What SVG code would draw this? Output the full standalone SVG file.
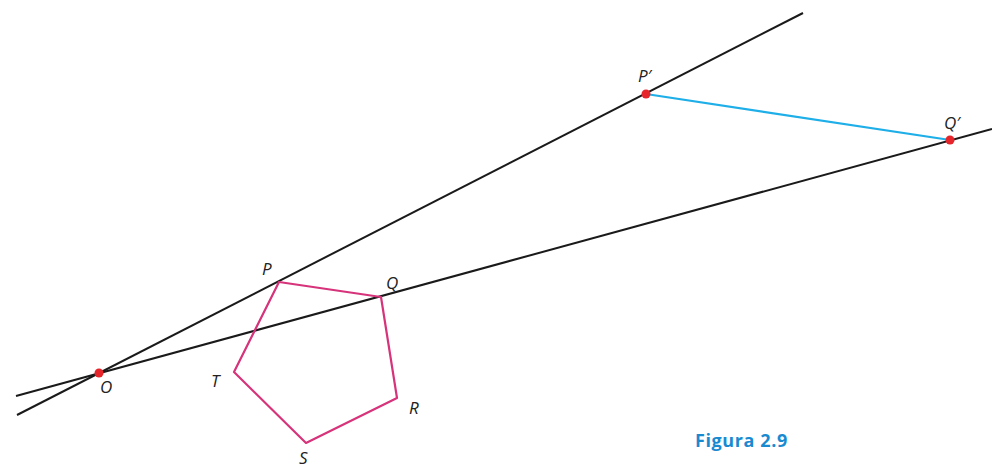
<svg xmlns="http://www.w3.org/2000/svg" width="992" height="468" viewBox="0 0 992 468">
<style>
.ln{stroke:#1a1a1a;stroke-width:2;fill:none}
.pt{fill:#e5252a}
.lb{font-family:"Open Sans","Liberation Sans",sans-serif;font-style:italic;font-size:17px;fill:#222}
</style>
<rect width="992" height="468" fill="#fff"/>
<g id="connectors">
<line class="ln" x1="17" y1="415" x2="803" y2="13"/>
<line class="ln" x1="16" y1="396" x2="992" y2="129"/>
<line x1="646" y1="94" x2="950" y2="140" stroke="#1eaee8" stroke-width="2.2"/>
</g>
<g id="pentagon">
<polygon points="279,282 381,297 397,398 306,443 234,372" fill="none" stroke="#d6337a" stroke-width="2.2" stroke-linejoin="round"/>
</g>
<g id="O"><circle class="pt" cx="99" cy="373" r="4.5"/><text class="lb" x="100" y="393">O</text></g>
<g id="P"><text class="lb" x="262" y="275">P</text></g>
<g id="Q"><text class="lb" x="386" y="289">Q</text></g>
<g id="R"><text class="lb" x="409" y="414">R</text></g>
<g id="S"><text class="lb" x="299" y="464">S</text></g>
<g id="T"><text class="lb" x="211" y="387">T</text></g>
<g id="Pp"><circle class="pt" cx="646" cy="94" r="4.5"/><text class="lb" x="638" y="82">P′</text></g>
<g id="Qp"><circle class="pt" cx="950" cy="140" r="4.5"/><text class="lb" x="944" y="129">Q′</text></g>
<g id="caption"><text x="695" y="447" font-family="'Open Sans','Liberation Sans',sans-serif" font-weight="bold" font-size="18" letter-spacing="0.6" fill="#1a8ad0">Figura 2.9</text></g>
</svg>
